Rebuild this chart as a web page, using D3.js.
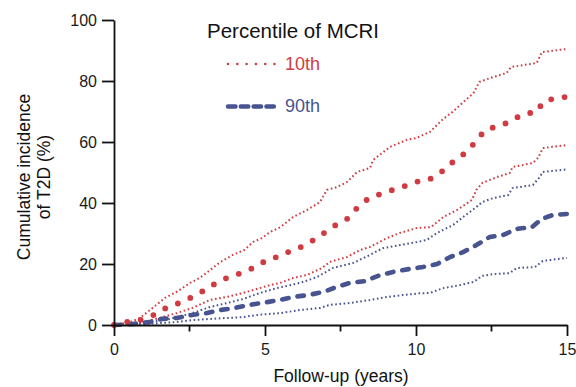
<!DOCTYPE html>
<html>
<head>
<meta charset="utf-8">
<script src="https://cdn.jsdelivr.net/npm/d3@7"></script>
<style>
  body { margin: 0; background: #fff; }
  svg { font-family: "Liberation Sans", Arial, sans-serif; }
</style>
</head>
<body>
<div id="graph"></div>
<script>
// follow-up years and cumulative incidence (%)
const hi10Years = [0, 0.3, 0.6, 0.86, 1.19, 1.69, 2.1, 2.52, 2.85, 3.18, 3.5, 3.94, 4.3, 4.6, 4.9, 5.17, 5.5, 5.93, 6.39, 6.82, 7.05, 7.38, 7.72, 8.05, 8.48, 8.58, 9.14, 9.7, 10.0, 10.46, 10.86, 11.2, 11.56, 11.9, 12.1, 12.55, 13.0, 13.15, 14.0, 14.17, 15];
const hi10Vals  = [0, 0.5, 1.2, 2.3, 4.9, 8.9, 11, 13.8, 15.5, 18, 20.5, 23, 24.5, 27.2, 28.5, 30.5, 32, 35.4, 37.7, 40.3, 44.3, 45.2, 46.9, 50.2, 51.5, 54.1, 58.4, 60.7, 61.3, 63.3, 67.2, 69.8, 73, 76, 79.7, 81.3, 82.6, 84.6, 85.9, 89.5, 90.5];

const est10Years = [0, 0.43, 0.86, 1.26, 1.63, 2.08, 2.45, 2.82, 3.18, 3.51, 3.94, 4.34, 4.73, 5.1, 5.53, 5.89, 6.29, 6.66, 7.05, 7.35, 7.72, 8.05, 8.44, 9.1, 9.54, 9.97, 10.4, 10.8, 11.13, 11.46, 11.8, 12.05, 12.35, 12.78, 13.2, 13.54, 14.0, 14.2, 14.6, 15];
const est10Vals  = [0, 1, 1.6, 3, 5.2, 6.9, 8.5, 10.4, 12.5, 14.6, 16.1, 17.5, 19.3, 21.6, 22.6, 24.6, 25.9, 28.2, 30.8, 32.8, 34.8, 38.4, 41.6, 43.9, 45.2, 46.9, 47.5, 49.8, 52.8, 55, 58, 61.3, 64.3, 65.2, 67.2, 69.2, 69.8, 73.1, 74.4, 74.8];

const lo10Years = [0, 0.5, 1.0, 1.5, 2.08, 2.6, 3.18, 3.74, 4.27, 4.83, 5.17, 5.5, 5.93, 6.39, 6.89, 7.15, 7.72, 8.15, 8.48, 9.04, 9.47, 10.03, 10.5, 10.9, 11.36, 11.85, 12.0, 12.2, 12.68, 13.1, 13.2, 13.87, 14.04, 14.2, 15];
const lo10Vals  = [0, 0.3, 1, 2.3, 3.9, 5.6, 8.2, 9.2, 10.5, 12.1, 13.1, 13.8, 15.4, 16.4, 18.7, 20.7, 22.3, 24.6, 25.6, 28.5, 30.2, 31.8, 32.1, 35.4, 37.7, 41, 44.3, 46.6, 48.5, 49.8, 51.8, 53.1, 54.8, 58, 59];

const hi90Years = [0, 0.8, 1.3, 1.85, 2.6, 3.18, 3.74, 4.27, 4.83, 5.4, 6.16, 6.72, 7.25, 7.91, 8.48, 8.9, 9.47, 10.03, 10.36, 10.7, 11.23, 11.56, 12.0, 12.19, 12.55, 13.05, 13.2, 13.87, 14.1, 14.2, 15];
const hi90Vals  = [0, 0.5, 1.2, 2, 3.9, 5.9, 7.2, 8.5, 10.5, 12.1, 13.8, 15.7, 18.7, 20.3, 23, 25.2, 26.2, 27.2, 27.9, 30.2, 32.8, 35.4, 38.7, 40.3, 41.6, 42.6, 44.9, 45.9, 48.5, 50.2, 51];

const est90Years = [0, 0.6, 1.19, 1.59, 2.08, 2.58, 3.08, 3.51, 4.0, 4.5, 5.0, 5.5, 5.93, 6.42, 6.92, 7.38, 7.81, 8.31, 8.74, 9.24, 9.8, 10.23, 10.7, 11.13, 11.56, 12.0, 12.45, 12.88, 13.34, 13.84, 14.17, 14.54, 15];
const est90Vals  = [0, 0.3, 1, 2, 2.3, 3.3, 3.9, 4.9, 5.6, 6.6, 7.4, 8.2, 9.2, 9.8, 10.8, 12.5, 13.8, 14.4, 16.1, 17.4, 18.4, 19, 20, 22.3, 23.9, 26.2, 28.9, 29.5, 31.5, 32.1, 34.8, 36.1, 36.4];

const lo90Years = [0, 1.0, 1.5, 2.08, 2.6, 3.18, 3.74, 4.27, 4.83, 5.5, 6.16, 6.82, 7.15, 7.81, 8.48, 9.04, 9.57, 10.13, 10.46, 10.9, 11.46, 11.9, 12.19, 12.55, 13.1, 13.34, 13.94, 14.2, 15];
const lo90Vals  = [0, 0.3, 0.6, 1, 1.6, 2, 2.3, 2.6, 3.4, 3.9, 4.9, 5.6, 6.6, 7.2, 8.2, 9.2, 9.8, 10.4, 10.5, 12.1, 13.1, 14.1, 16.1, 16.7, 17, 18.7, 19, 21, 22];

const xTicks = [0, 5, 10, 15];
const xMinorTicks = [2.5, 7.5, 12.5];
const yTicks = [0, 20, 40, 60, 80, 100];
const legendLabels = ['10th', '90th'];

const red = '#cf3b40';
const blue = '#48548f';

const width = 576;
const height = 387;

const svg = d3.select('#graph')
  .append('svg')
  .attr('width', width)
  .attr('height', height);

//scales
const xScale = d3.scaleLinear().domain([0, 15]).range([114, 567]);
const yScale = d3.scaleLinear().domain([0, 100]).range([325, 20]);

const toPoints = (xs, ys) => xs.map((x, i) => [x, ys[i]]);
const line = d3.line().x(d => xScale(d[0])).y(d => yScale(d[1]));

const series = [
  { pts: toPoints(lo90Years, lo90Vals), color: blue, w: 2, dash: '1.6,2.6', cap: 'butt' },
  { pts: toPoints(hi90Years, hi90Vals), color: blue, w: 2, dash: '1.6,2.6', cap: 'butt' },
  { pts: toPoints(lo10Years, lo10Vals), color: red, w: 2, dash: '1.6,2.6', cap: 'butt' },
  { pts: toPoints(hi10Years, hi10Vals), color: red, w: 2, dash: '1.6,2.6', cap: 'butt' },
  { pts: toPoints(est90Years, est90Vals), color: blue, w: 4.6, dash: '6.5,9', cap: 'round' },
  { pts: toPoints(est10Years, est10Vals), color: red, w: 5.8, dash: '0,13.6', cap: 'round' }
];

svg.selectAll('path.curve')
  .data(series)
  .enter()
  .append('path')
  .attr('class', 'curve')
  .attr('d', d => line(d.pts))
  .attr('fill', 'none')
  .attr('stroke', d => d.color)
  .attr('stroke-width', d => d.w)
  .attr('stroke-dasharray', d => d.dash)
  .attr('stroke-linecap', d => d.cap);

//axes
const xAxis = d3.axisBottom(xScale).tickValues(xTicks).tickSize(11).tickSizeOuter(0).tickPadding(8);
const yAxis = d3.axisLeft(yScale).tickValues(yTicks).tickSize(12).tickSizeOuter(0).tickPadding(5);

const gx = svg.append('g')
  .attr('transform', 'translate(0,' + yScale(0) + ')')
  .call(xAxis);
gx.selectAll('.minor')
  .data(xMinorTicks)
  .enter()
  .append('line')
  .attr('class', 'minor')
  .attr('x1', d => xScale(d))
  .attr('x2', d => xScale(d))
  .attr('y1', 0)
  .attr('y2', 6.5)
  .attr('stroke', '#111')
  .attr('stroke-width', 1.8);

const gy = svg.append('g')
  .attr('transform', 'translate(' + xScale(0) + ',0)')
  .call(yAxis);

[gx, gy].forEach(g => {
  g.select('.domain').attr('stroke', '#111').attr('stroke-width', 1.8);
  g.selectAll('.tick line').attr('stroke', '#111').attr('stroke-width', 1.8);
  g.selectAll('.tick text').attr('fill', '#1a1a1a').style('font-size', '16px').style('font-family', '"Liberation Sans", Arial, sans-serif');
});

//axis titles
svg.append('text')
  .attr('x', 341)
  .attr('y', 382)
  .attr('text-anchor', 'middle')
  .style('font-size', '17.5px')
  .attr('fill', '#111')
  .text('Follow-up (years)');

const yTitle = svg.append('text')
  .attr('transform', 'translate(30,177) rotate(-90)')
  .attr('text-anchor', 'middle')
  .style('font-size', '17.5px')
  .attr('fill', '#111');
yTitle.append('tspan').attr('x', 0).attr('y', 0).text('Cumulative incidence');
yTitle.append('tspan').attr('x', 0).attr('y', 20).text('of T2D (%)');

//legend
svg.append('text')
  .attr('x', 207)
  .attr('y', 38)
  .style('font-size', '20.5px')
  .attr('fill', '#111')
  .text('Percentile of MCRI');

const legend = [
  { label: legendLabels[0], color: red, y: 64, w: 2.6, dash: '0,9.3', cap: 'round' },
  { label: legendLabels[1], color: blue, y: 106.5, w: 4.4, dash: '7.5,5.3', cap: 'round' }
];

legend.forEach(l => {
  svg.append('line')
    .attr('x1', 228)
    .attr('x2', 275)
    .attr('y1', l.y)
    .attr('y2', l.y)
    .attr('stroke', l.color)
    .attr('stroke-width', l.w)
    .attr('stroke-dasharray', l.dash)
    .attr('stroke-linecap', l.cap);
  svg.append('text')
    .attr('x', 285)
    .attr('y', l.y + 5.5)
    .style('font-size', '18px')
    .attr('fill', l.color)
    .text(l.label);
});
</script>
</body>
</html>
